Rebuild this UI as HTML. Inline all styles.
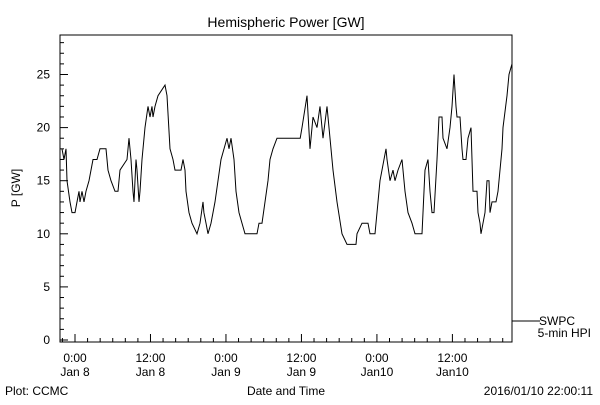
<!DOCTYPE html>
<html><head><meta charset="utf-8"><style>
body{margin:0;background:#fff}
svg text{font-family:"Liberation Sans",sans-serif;font-size:12px;fill:#000}
</style></head><body>
<svg width="600" height="400" xmlns="http://www.w3.org/2000/svg">
<text x="286" y="27" text-anchor="middle" style="font-size:14px">Hemispheric Power [GW]</text>
<rect x="60" y="35" width="452" height="307" fill="none" stroke="#000" stroke-width="1"/>
<g id="axes"></g>
<path id="series" fill="none" stroke="#000" stroke-width="1"/>
<text x="20" y="188" text-anchor="middle" transform="rotate(-90 20 188)">P [GW]</text>
<line x1="512" y1="321" x2="540" y2="321" stroke="#000"/>
<text x="575" y="325" text-anchor="end">SWPC</text>
<text x="591" y="337" text-anchor="end">5-min HPI</text>
<text x="5" y="395">Plot: CCMC</text>
<text x="286" y="395" text-anchor="middle">Date and Time</text>
<text x="593" y="395" text-anchor="end">2016/01/10 22:00:11</text>
</svg>
<script>
const hours=[-2.07,-1.75,-1.43,-1.27,-0.8,-0.48,0,0.32,0.64,0.8,1.11,1.43,1.75,2.23,2.54,2.86,3.5,3.97,4.93,5.25,5.72,6.36,6.84,7.15,8.27,8.59,8.9,9.22,9.38,9.7,9.86,10.17,10.33,10.65,11.13,11.6,11.92,12.24,12.4,12.72,13.2,14.31,14.63,15.1,15.58,15.9,16.85,17.17,17.49,17.65,18.12,18.6,19.4,19.87,20.35,20.5,20.83,21.14,21.62,21.94,22.26,22.73,23.21,24.17,24.48,24.8,25.28,25.6,26.07,26.55,27.03,28.93,29.25,29.73,30.21,30.68,31,31.48,32.11,35.8,36.09,36.88,37.36,37.84,38.47,38.95,39.43,40.06,40.54,41.02,41.65,42.45,43.24,44.67,44.83,45.63,46.58,46.9,47.69,48.17,48.49,49.44,49.6,50.08,50.56,50.87,51.35,51.99,52.46,52.94,53.58,54.05,55.17,55.33,55.64,56.12,56.44,56.76,57.07,57.55,57.87,58.35,58.51,59.14,59.62,59.94,60.25,60.57,60.73,61.21,61.53,61.69,62.16,62.48,62.96,63.12,63.28,63.91,64.07,64.39,64.55,64.86,65.18,65.5,65.82,65.98,66.3,66.93,67.25,67.89,68.05,68.68,69,69.48];
const power=[18,17,18,15,13,12,12,13,14,13,14,13,14,15,16,17,17,18,18,16,15,14,14,16,17,19,17,14,13,17,16,13,14,17,20,22,21,22,21,22,23,24,23,18,17,16,16,17,16,14,12,11,10,11,13,12,11,10,11,12,13,15,17,19,18,19,17,14,12,11,10,10,11,11,13,15,17,18,19,19,20,23,18,21,20,22,19,22,19,16,13,10,9,9,10,11,11,10,10,13,15,18,17,15,16,15,16,17,14,12,11,10,10,12,16,17,14,12,12,17,21,21,19,18,20,22,25,22,21,21,18,17,17,19,20,17,14,14,12,11,10,11,12,15,15,12,13,13,14,18,20,23,25,26];
const yTicks=[0,5,10,15,20,25];
const xTickLabels=[["0:00","Jan 8"],["12:00","Jan 8"],["0:00","Jan 9"],["12:00","Jan 9"],["0:00","Jan10"],["12:00","Jan10"]];
const xTickHours=[0,12,24,36,48,60];
const X=h=>75+h*6.29, Y=v=>340-v*10.62;
const ns="http://www.w3.org/2000/svg",ax=document.getElementById('axes');
function ln(x1,y1,x2,y2){const l=document.createElementNS(ns,'line');l.setAttribute('x1',x1);l.setAttribute('y1',y1);l.setAttribute('x2',x2);l.setAttribute('y2',y2);l.setAttribute('stroke','#000');


ax.appendChild(l);}
function tx(x,y,s,a){const t=document.createElementNS(ns,'text');t.setAttribute('x',x);t.setAttribute('y',y);t.setAttribute('text-anchor',a);t.textContent=s;


ax.appendChild(t);}
for(let v=0;v<=28;v++){ln(60,Y(v),v%5===0?68:64,Y(v));}
yTicks.forEach(v=>tx(50,Y(v)+4,String(v),'end'));
for(let h=-2;h<=68;h+=2){ln(X(h),342,X(h),h%12===0?334:338);}
xTickHours.forEach((h,i)=>{tx(X(h),362,xTickLabels[i][0],'middle');tx(X(h),376,xTickLabels[i][1],'middle');});
let d='M'+X(hours[0])+','+Y(power[0]);
for(let i=1;i<hours.length;i++){d+=' L'+X(hours[i]).toFixed(1)+','+Y(power[i]).toFixed(1);}
document.getElementById('series').setAttribute('d',d);
</script>
</body></html>
